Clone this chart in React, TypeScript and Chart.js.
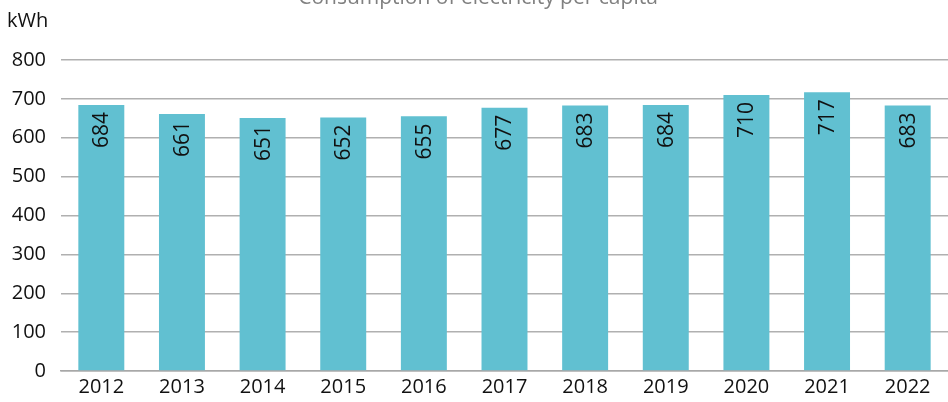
import React, { useEffect, useRef } from "react";
import { Chart, registerables } from "chart.js";

Chart.register(...registerables);

const years = ["2012", "2013", "2014", "2015", "2016", "2017", "2018", "2019", "2020", "2021", "2022"];
const consumption = [684, 661, 651, 652, 655, 677, 683, 684, 710, 717, 683];
const titleText = "Consumption of electricity per capita";
const unitText = "kWh";

const FONT = "'Open Sans', 'Noto Sans', sans-serif";

const overlayPlugin = {
  id: "overlay",
  afterDatasetsDraw(chart: any) {
    const ctx = chart.ctx;
    const meta = chart.getDatasetMeta(0);
    ctx.save();
    ctx.fillStyle = "#111";
    ctx.font = `21px ${FONT}`;
    meta.data.forEach((bar: any, i: number) => {
      ctx.save();
      ctx.translate(bar.x, bar.y + 7);
      ctx.rotate(-Math.PI / 2);
      ctx.textAlign = "right";
      ctx.textBaseline = "middle";
      ctx.fillText(String(consumption[i]), 0, 1);
      ctx.restore();
    });
    ctx.restore();
  },
  afterDraw(chart: any) {
    const ctx = chart.ctx;
    ctx.save();
    ctx.font = `21px ${FONT}`;
    ctx.fillStyle = "#808080";
    ctx.textAlign = "center";
    ctx.textBaseline = "alphabetic";
    ctx.fillText(titleText, 478, 4);
    ctx.fillStyle = "#111";
    ctx.textAlign = "left";
    ctx.font = `20px ${FONT}`;
    ctx.fillText(unitText, 7, 27);
    ctx.restore();
  },
};

export default function App() {
  const ref = useRef<HTMLCanvasElement>(null);
  useEffect(() => {
    document.body.style.margin = "0";
    const chart = new Chart(ref.current!, {
      type: "bar",
      data: {
        labels: years,
        datasets: [
          {
            data: consumption,
            backgroundColor: "#61c0d1",
            categoryPercentage: 0.57,
            barPercentage: 1,
          },
        ],
      },
      options: {
        animation: false,
        responsive: true,
        maintainAspectRatio: false,
        layout: { padding: { top: 60, left: 0, right: 0, bottom: 0 } },
        plugins: { legend: { display: false }, tooltip: { enabled: false }, title: { display: false } },
        scales: {
          x: {
            grid: { display: false, drawTicks: false },
            border: { display: true, color: "#a8a8a8", width: 1.5 },
            ticks: { color: "#111", font: { family: FONT, size: 20 }, padding: 4, maxRotation: 0 },
            afterFit: (s: any) => {
              s.height = 31;
            },
          },
          y: {
            min: 0,
            max: 800,
            grid: { color: "#b0b0b0", lineWidth: 1.5, drawTicks: false },
            border: { display: false },
            ticks: { stepSize: 100, color: "#111", font: { family: FONT, size: 20 }, padding: 15 },
            afterFit: (s: any) => {
              s.width = 61;
            },
          },
        },
      },
      plugins: [overlayPlugin],
    });
    return () => chart.destroy();
  }, []);
  return (
    <div style={{ position: "absolute", left: 0, top: 0, width: 948, height: 402 }}>
      <canvas ref={ref} />
    </div>
  );
}
